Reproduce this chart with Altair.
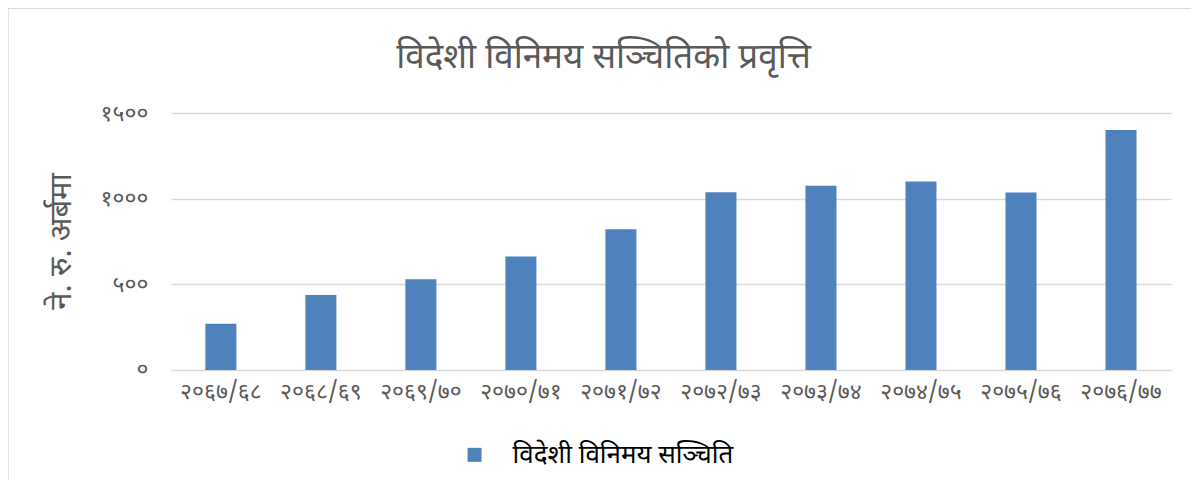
import altair as alt
import pandas as pd

title_text = "विदेशी विनिमय सञ्चितिको प्रवृत्ति"
y_title = "ने. रु. अर्बमा"
series_name = "विदेशी विनिमय सञ्चिति"
years = ["२०६७/६८", "२०६८/६९", "२०६९/७०", "२०७०/७१", "२०७१/७२",
         "२०७२/७३", "२०७३/७४", "२०७४/७५", "२०७५/७६", "२०७६/७७"]
values = [270, 437, 530, 662, 822, 1037, 1076, 1101, 1036, 1401]
y_ticks = [0, 500, 1000, 1500]
y_tick_labels = ["०", "५००", "१०००", "१५००"]

df = pd.DataFrame({"year": years, "value": values, "series": [series_name] * len(years)})

label_expr = " : ".join(
    f"datum.value == {v} ? '{l}'" for v, l in zip(y_ticks, y_tick_labels)
) + " : ''"

FONT = "Noto Sans Devanagari, Noto Sans, sans-serif"
GRAY = "#595959"

bars = alt.Chart(df).mark_bar(color="#4F81BD").encode(
    x=alt.X("year:N", sort=years,
            scale=alt.Scale(paddingInner=0.69, paddingOuter=0.345),
            axis=alt.Axis(title=None, domain=False, ticks=False, labelAngle=0,
                          labelFontSize=23, labelColor=GRAY, labelFont=FONT,
                          labelPadding=11)),
    y=alt.Y("value:Q", scale=alt.Scale(domain=[0, 1500], nice=False),
            axis=alt.Axis(title=y_title, values=y_ticks, labelExpr=label_expr,
                          domain=False, ticks=False, grid=True,
                          gridColor="#D9D9D9", gridWidth=1.5,
                          labelFontSize=23, labelColor=GRAY, labelFont=FONT,
                          labelPadding=23,
                          titleFontSize=31, titleColor=GRAY, titleFont=FONT,
                          titleFontWeight="normal",
                          titleX=-93, titleY=128, titleAngle=-90,
                          titleAlign="center", titleBaseline="bottom")),
    fill=alt.Fill("series:N",
                  scale=alt.Scale(range=["#4F81BD"]),
                  legend=alt.Legend(title=None, orient="none", legendX=291, legendY=329,
                                    symbolType="square", symbolSize=196,
                                    symbolStrokeWidth=0, labelFontSize=26,
                                    labelColor="#000000", labelFont=FONT,
                                    labelLimit=0, labelOffset=25, padding=0)),
)

border = alt.Chart(alt.Data(values=[{}])).mark_rect(
    fill=None, stroke="#D9D9D9", strokeWidth=1.5
).encode(
    x=alt.value(-163), y=alt.value(-105), x2=alt.value(1200), y2=alt.value(500)
)

title = alt.Chart(alt.Data(values=[{"t": title_text}])).mark_text(
    fontSize=35, color=GRAY, font=FONT, align="center", baseline="middle"
).encode(
    text="t:N", x=alt.value(433), y=alt.value(-56)
)

chart = alt.layer(border, bars, title).properties(
    width=1001, height=257,
    autosize=alt.AutoSizeParams(type="none"),
    padding={"left": 163, "top": 105, "right": 20, "bottom": 110},
).configure_view(stroke=None)

chart.save("out.html", embed_options={"renderer": "svg", "actions": False})
